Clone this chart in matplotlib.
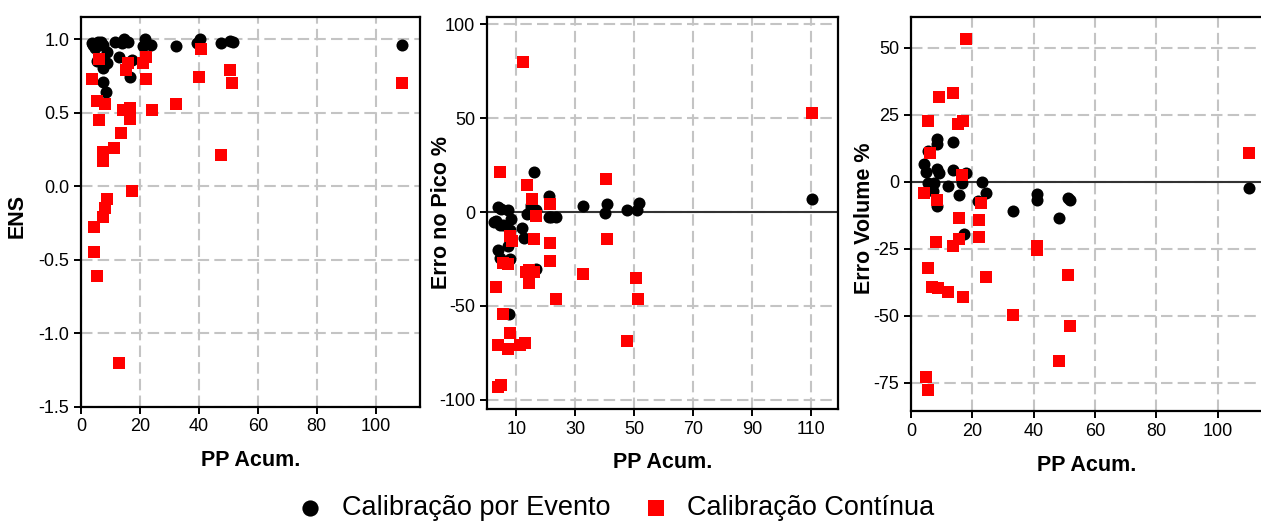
import numpy as np
import matplotlib.pyplot as plt

plt.rcParams['font.family'] = ['Liberation Sans', 'DejaVu Sans']
plt.rcParams['axes.unicode_minus'] = False

# ENS panel
ens_ev_x = [3.6, 5.9, 4.7, 7.6, 5.3, 8.7, 8.7, 7.6, 7.6, 8.5, 11.4, 12.8, 14.6, 16, 17.2, 16.5, 13.8,
            21.7, 21.1, 23.9, 32.4, 40.3, 39.4, 47.4, 50.4, 51.6, 109, 4.0, 6.8]
ens_ev_y = [0.97, 0.98, 0.94, 0.96, 0.85, 0.84, 0.91, 0.80, 0.71, 0.64, 0.98, 0.88, 1.0, 0.98, 0.86, 0.74, 0.97,
            1.0, 0.95, 0.96, 0.95, 1.0, 0.97, 0.97, 0.99, 0.98, 0.96, 0.96, 0.98]
ens_co_x = [3.8, 6.1, 5.3, 8.1, 6.1, 7.6, 7.6, 11.3, 13.6, 14.3, 16.6, 16.6, 15.2, 16, 21.1, 21.9, 21.9,
            24.1, 32.4, 40.7, 39.9, 47.4, 50.4, 51.1, 109, 17.4, 8.9, 8.1, 7.6, 4.5, 4.5, 5.3, 12.9]
ens_co_y = [0.73, 0.865, 0.58, 0.56, 0.45, 0.23, 0.17, 0.26, 0.36, 0.515, 0.53, 0.456, 0.79, 0.84, 0.84, 0.88, 0.73,
            0.515, 0.56, 0.93, 0.74, 0.21, 0.79, 0.70, 0.70, -0.03, -0.09, -0.15, -0.21, -0.28, -0.45, -0.61, -1.2]

# Erro no pico panel
pico_ev_x = [15.9, 110.4, 21.2, 32.6, 40.9, 40.1, 47.7, 50.9, 51.7, 3.8, 7.0, 3.0, 8.2, 5.3, 11.9, 13.6, 14.8,
             16.5, 21.6, 23.6, 12.5, 3.8, 4.5, 7.7, 7.0, 16.5, 7.4, 7.7, 4.5, 2.4, 4.7, 14.9, 21.1]
pico_ev_y = [21.1, 6.8, 8.4, 3.2, 4.1, -0.3, 1.3, 0.9, 4.8, 2.7, 0.9, -4.8, -3.9, -7.1, -8.3, -0.9, 2.3,
             1.3, -2.7, -2.7, -14.1, -20, -24.3, -24.8, -18.2, -30.6, -54.4, -9.7, -7.1, -5.3, 1.8, 3.6, -2.7]
pico_co_x = [12.1, 4.5, 13.6, 15.3, 21.3, 16.5, 40.3, 110.4, 7.7, 8.5, 15.9, 21.3, 21.3, 40.9, 32.6, 23.5, 50.8,
             51.4, 47.7, 5.5, 7.0, 3.1, 14.4, 14.4, 15.9, 5.5, 7.7, 3.8, 7.0, 11.1, 12.8, 3.7, 4.9, 13.2]
pico_co_y = [80.2, 21.1, 14.2, 6.8, 4.1, -2.3, 17.4, 52.7, -12.9, -15.4, -14.2, -16.5, -26.1, -14.2, -33.1, -46.3, -35.4,
             -46.3, -68.6, -27.1, -27.5, -40.2, -31, -37.8, -31.9, -54.4, -64.7, -70.9, -73, -70.9, -69.7, -93.1, -92.2, -31.9]

# Erro volume panel
vol_ev_x = [110.3, 8.5, 8.5, 13.7, 5.5, 4.1, 5.0, 8.5, 9.3, 13.7, 18.0, 5.4, 7.4, 7.2, 12.1, 15.7, 16.7,
            23.1, 24.4, 22.0, 8.5, 33.1, 41.0, 41.0, 48.1, 51.3, 51.9, 17.4, 6.6]
vol_ev_y = [-2.5, 16, 14.1, 15, 11.4, 6.6, 3.5, 4.8, 3.1, 4.4, 3.3, -0.3, -0.3, -3.4, -1.5, -5, -0.3,
            0, -4.2, -7.1, -9, -10.9, -4.6, -6.7, -13.4, -5.9, -6.7, -19.6, -2.9]
vol_co_x = [17.8, 13.6, 9.2, 5.5, 15.2, 17.1, 6.3, 16.6, 4.1, 8.5, 22.9, 15.7, 22.2, 110.3, 22.2, 8.1, 13.7,
            15.7, 41.0, 41.0, 5.5, 24.4, 51.1, 7.0, 8.7, 12.1, 17.1, 33.1, 51.8, 48.2, 5.0, 5.5]
vol_co_y = [53.2, 33.3, 31.6, 22.5, 21.6, 22.5, 10.8, 2.6, -4.2, -6.7, -8, -13.4, -14.2, 10.8, -20.6, -22.4, -24,
            -21.5, -24, -25.6, -32.4, -35.6, -34.9, -39.2, -39.6, -41.2, -43.1, -49.9, -54, -67.1, -73.1, -77.9]

fig = plt.figure(figsize=(12.61, 5.21), dpi=100)
ax1 = fig.add_axes([0.0642, 0.2194, 0.2688, 0.748])
ax2 = fig.add_axes([0.3862, 0.2150, 0.2784, 0.7524])
ax3 = fig.add_axes([0.7224, 0.2117, 0.2784, 0.7557])

panels = [
    (ax1, ens_ev_x, ens_ev_y, ens_co_x, ens_co_y, 'ENS'),
    (ax2, pico_ev_x, pico_ev_y, pico_co_x, pico_co_y, 'Erro no Pico %'),
    (ax3, vol_ev_x, vol_ev_y, vol_co_x, vol_co_y, 'Erro Volume %'),
]

for ax, ex, ey, cx, cy, lab in panels:
    ax.grid(True, linestyle=(0, (5.5, 2.5)), linewidth=1.5, color='#c4c4c4', zorder=0)
    ax.set_axisbelow(True)
    ax.scatter(ex, ey, s=75, marker='o', color='black', linewidths=0, zorder=3,
               label='Calibração por Evento')
    ax.scatter(cx, cy, s=70, marker='s', color='#ff0000', linewidths=0, zorder=4,
               label='Calibração Contínua')
    for sp in ax.spines.values():
        sp.set_linewidth(1.6)
    ax.tick_params(labelsize=13, width=1.4, length=5, direction='out')
    ax.set_xlabel('PP Acum.', fontsize=15.5, fontweight='bold')
    ax.set_ylabel(lab, fontsize=15.5, fontweight='bold')

ax1.set_xlim(0, 115)
ax1.set_ylim(-1.5, 1.15)
ax1.set_xticks([0, 20, 40, 60, 80, 100])
ax1.set_yticks([-1.5, -1.0, -0.5, 0.0, 0.5, 1.0])
ax1.set_yticklabels(['-1.5', '-1.0', '-0.5', '0.0', '0.5', '1.0'])
ax1.yaxis.set_label_coords(-0.156, 0.49)
ax1.xaxis.set_label_coords(0.5, -0.11)

ax2.set_xlim(0, 119.3)
ax2.set_ylim(-105, 104)
ax2.set_xticks([10, 30, 50, 70, 90, 110])
ax2.set_yticks([-100, -50, 0, 50, 100])
ax2.axhline(0, color='#333333', lw=1.5, zorder=2)
ax2.yaxis.set_label_coords(-0.10, 0.5)
ax2.xaxis.set_label_coords(0.5, -0.11)

ax3.set_xlim(0, 114.4)
ax3.set_ylim(-85.5, 61.5)
ax3.set_xticks([0, 20, 40, 60, 80, 100])
ax3.set_yticks([-75, -50, -25, 0, 25, 50])
ax3.axhline(0, color='#333333', lw=1.5, zorder=2)
ax3.yaxis.set_label_coords(-0.103, 0.49)
ax3.xaxis.set_label_coords(0.5, -0.1125)

h, l = ax1.get_legend_handles_labels()
fig.legend(h, l, loc='center', bbox_to_anchor=(0.485, 1 - 508 / 521), ncol=2, frameon=False,
           fontsize=19.5, markerscale=1.35, handlelength=1.6, handletextpad=0.35, columnspacing=0.9)

fig.savefig('out.png', dpi=100)
